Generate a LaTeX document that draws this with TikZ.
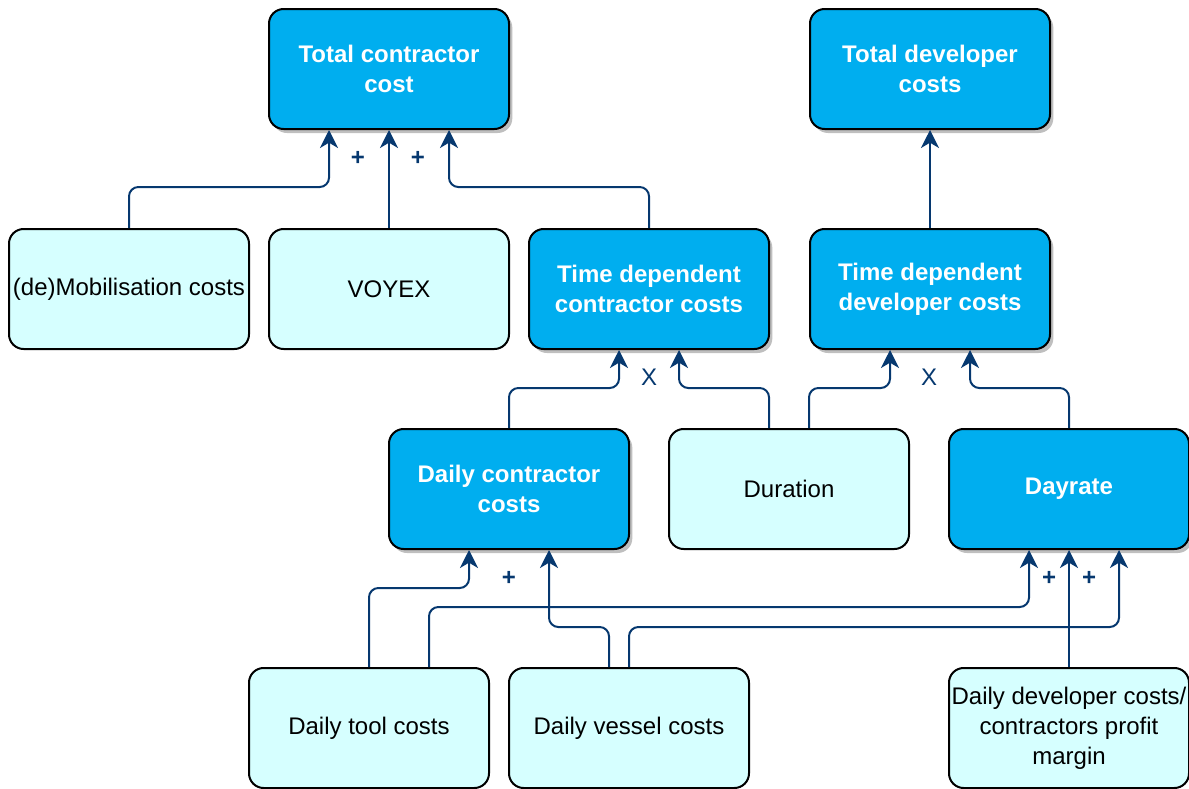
\documentclass[tikz,border=0pt]{standalone}
\usepackage{fontspec}
\setmainfont{Liberation Sans}
\usetikzlibrary{arrows.meta,calc,shadows}
\definecolor{darkfill}{HTML}{00AEEF}
\definecolor{lightfill}{HTML}{D6FFFF}
\definecolor{navy}{HTML}{06386F}
\definecolor{shade}{HTML}{BFBFBF}
\tikzset{
  box/.style={draw=black, line width=1.5pt, rounded corners=11pt,
    minimum width=180pt, minimum height=90pt, align=center, inner sep=0pt,
    font=\fontsize{18}{22.5}\selectfont},
  darkbox/.style={box, fill=darkfill, text=white,
    font=\fontsize{18}{22.5}\selectfont\bfseries,
    drop shadow={shadow xshift=2.5pt, shadow yshift=-3pt, fill=shade, opacity=1}},
  lightbox/.style={box, fill=lightfill},
  conn/.style={draw=navy, line width=1.5pt, rounded corners=7pt,
    -{Stealth[length=13.5pt,width=13.5pt,inset=4pt]}},
  sign/.style={text=navy, font=\fontsize{18}{22.5}\selectfont, inner sep=0pt},
  plus/.style={sign, font=\fontsize{18}{22.5}\selectfont\bfseries},
}
\begin{document}
\begin{tikzpicture}[x=0.75pt, y=-0.75pt]
\useasboundingbox (0,0) rectangle (1189,789);

% boxes
\node[darkbox]  (tcc)  at (389,69)  {Total contractor\\cost};
\node[darkbox]  (tdv)  at (930,69)  {Total developer\\costs};
\node[lightbox] (mob)  at (129,289) {(de)Mobilisation costs};
\node[lightbox] (voy)  at (389,289) {VOYEX};
\node[darkbox]  (tdc)  at (649,289) {Time dependent\\contractor costs};
\node[darkbox]  (tdd)  at (930,289) {Time dependent\\developer costs};
\node[darkbox]  (dcc)  at (509,489) {Daily contractor\\costs};
\node[lightbox] (dur)  at (789,489) {Duration};
\node[darkbox]  (day)  at (1069,489) {Dayrate};
\node[lightbox] (tool) at (369,728) {Daily tool costs};
\node[lightbox] (ves)  at (629,728) {Daily vessel costs};
\node[lightbox] (ddc)  at (1069,728) {Daily developer costs/\\contractors profit\\margin};

% connectors
\draw[conn] (mob.north) -- ++(0,-41) -| ($(tcc.south)+(-60,0)$);
\draw[conn] (voy.north) -- (tcc.south);
\draw[conn] (tdc.north) -- ++(0,-41) -| ($(tcc.south)+(60,0)$);
\draw[conn] (tdd.north) -- (tdv.south);

\draw[conn] (dcc.north) -- ++(0,-40) -| ($(tdc.south)+(-30,0)$);
\draw[conn] ($(dur.north)+(-20,0)$) -- ++(0,-40) -| ($(tdc.south)+(30,0)$);
\draw[conn] ($(dur.north)+(20,0)$) -- ++(0,-40) -| ($(tdd.south)+(-40,0)$);
\draw[conn] (day.north) -- ++(0,-40) -| ($(tdd.south)+(40,0)$);

\draw[conn] (tool.north) -- ++(0,-79) -| ($(dcc.south)+(-40,0)$);
\draw[conn] ($(tool.north)+(60,0)$) -- ++(0,-60) -| ($(day.south)+(-40,0)$);
\draw[conn] ($(ves.north)+(-20,0)$) -- ++(0,-40) -| ($(dcc.south)+(40,0)$);
\draw[conn] (ves.north) -- ++(0,-40) -| ($(day.south)+(50,0)$);
\draw[conn] (ddc.north) -- (day.south);

% operator labels
\node[plus] (p1) at (358,158) {+};
\node[plus] (p2) at (418,158) {+};
\node[sign] (x1) at (649,377) {X};
\node[sign] (x2) at (929,377) {X};
\node[plus] (p3) at (509,578) {+};
\node[plus] (p4) at (1049,578) {+};
\node[plus] (p5) at (1089,578) {+};
\end{tikzpicture}
\end{document}
